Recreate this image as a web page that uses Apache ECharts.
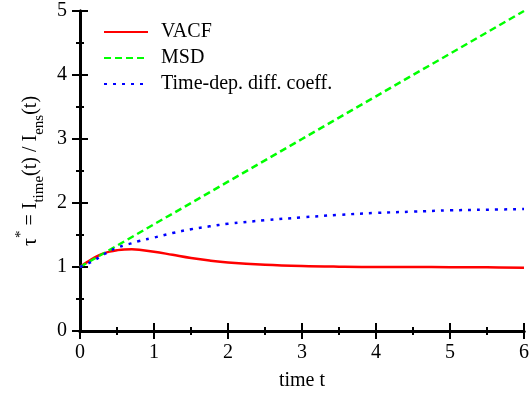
<!DOCTYPE html>
<html>
<head>
<meta charset="utf-8">
<script src="https://cdn.jsdelivr.net/npm/echarts@6/dist/echarts.min.js"></script>
<style>
  html, body { margin: 0; padding: 0; background: #fff; }
  #chart { width: 529px; height: 395px; }
</style>
</head>
<body>
<div id="chart"></div>
<script>
// values
const tCurve = [0, 0.1, 0.2, 0.3, 0.4, 0.5, 0.6, 0.7, 0.8, 1.0, 1.25, 1.5, 1.75, 2.0, 2.5, 3.0, 3.5, 4.0, 4.5, 5.0, 5.5, 6.0];
const vacf = [1, 1.08, 1.15, 1.205, 1.24, 1.262, 1.275, 1.277, 1.27, 1.24, 1.19, 1.14, 1.10, 1.07, 1.035, 1.015, 1.005, 1.0, 1.0, 0.997, 0.995, 0.99];
const diffCoeff = [1, 1.05, 1.11, 1.18, 1.25, 1.30, 1.34, 1.37, 1.405, 1.46, 1.53, 1.59, 1.635, 1.675, 1.73, 1.775, 1.815, 1.845, 1.865, 1.885, 1.895, 1.905];
const tMsd = [0, 1, 2, 3, 4, 5, 6];
const msd = [1, 1.667, 2.333, 3, 3.667, 4.333, 5];
const xTicks = [0, 1, 2, 3, 4, 5, 6];
const yTicks = [0, 1, 2, 3, 4, 5];

const zip = (xs, ys) => xs.map((x, i) => [x, ys[i]]);
const font = 'Liberation Serif, Times New Roman, serif';

const tickStyle = { show: true, inside: true, length: 8, lineStyle: { color: '#000', width: 2 } };
const minorStyle = { show: true, splitNumber: 2, length: 4, lineStyle: { color: '#000', width: 2 } };
const lineStyle = { show: true, lineStyle: { color: '#000', width: 3 } };

const myChart = echarts.init(document.getElementById('chart'));
myChart.setOption({
  animation: false,
  textStyle: { fontFamily: font, color: '#000' },
  grid: { left: 80, right: 5, top: 11, bottom: 64, outerBoundsMode: 'none' },
  legend: {
    orient: 'vertical',
    left: 98,
    top: 17,
    itemWidth: 44,
    itemHeight: 12,
    itemGap: 6,
    itemStyle: { opacity: 0 },
    textStyle: { fontFamily: font, fontSize: 20, lineHeight: 20, color: '#000', padding: [0, 0, 0, 8] },
    data: ['VACF', 'MSD', 'Time-dep. diff. coeff.']
  },
  xAxis: [
    {
      type: 'value', min: 0, max: 6, interval: 1,
      name: 'time t', nameLocation: 'middle', nameGap: 40,
      nameTextStyle: { fontFamily: font, fontSize: 20, color: '#000' },
      axisLine: lineStyle, axisTick: tickStyle, minorTick: minorStyle,
      splitLine: { show: false },
      axisLabel: { fontFamily: font, fontSize: 20, color: '#000', margin: 12,
        formatter: v => xTicks.includes(v) ? String(v) : '' }
    },
    {
      type: 'value', min: 0, max: 6, interval: 1, position: 'top',
      axisLine: lineStyle, axisTick: tickStyle, minorTick: minorStyle,
      splitLine: { show: false }, axisLabel: { show: false }
    }
  ],
  yAxis: [
    {
      type: 'value', min: 0, max: 5, interval: 1,
      name: '{a|τ}{sup|*}{a| = I}{sub|time}{a|(t) / I}{sub|ens}{a|(t)}',
      nameLocation: 'middle', nameGap: 24, nameRotate: 90,
      nameTextStyle: {
        fontFamily: font, fontSize: 20, color: '#000',
        rich: {
          a: { fontFamily: font, fontSize: 20, lineHeight: 24, verticalAlign: 'bottom' },
          sub: { fontFamily: font, fontSize: 15, lineHeight: 16, verticalAlign: 'bottom', padding: [0, 0, -5, 0] },
          sup: { fontFamily: font, fontSize: 15, lineHeight: 16, verticalAlign: 'top', padding: [-4, 0, 0, 0] }
        }
      },
      axisLine: lineStyle, axisTick: tickStyle, minorTick: minorStyle,
      splitLine: { show: false },
      axisLabel: { fontFamily: font, fontSize: 20, color: '#000', margin: 13,
        formatter: v => yTicks.includes(v) ? String(v) : '' }
    },
    {
      type: 'value', min: 0, max: 5, interval: 1, position: 'right',
      axisLine: lineStyle, axisTick: tickStyle, minorTick: minorStyle,
      splitLine: { show: false }, axisLabel: { show: false }
    }
  ],
  series: [
    {
      name: 'VACF', type: 'line', smooth: 0.4, symbol: 'none',
      lineStyle: { color: '#ff0000', width: 2.5 }, itemStyle: { color: '#ff0000' },
      data: zip(tCurve, vacf)
    },
    {
      name: 'MSD', type: 'line', symbol: 'none',
      lineStyle: { color: '#00ff00', width: 2.5, type: [7, 4] }, itemStyle: { color: '#00ff00' },
      data: zip(tMsd, msd)
    },
    {
      name: 'Time-dep. diff. coeff.', type: 'line', smooth: 0.4, symbol: 'none',
      lineStyle: { color: '#0000ff', width: 2.5, type: [3, 6] }, itemStyle: { color: '#0000ff' },
      data: zip(tCurve, diffCoeff)
    }
  ]
});
</script>
</body>
</html>
